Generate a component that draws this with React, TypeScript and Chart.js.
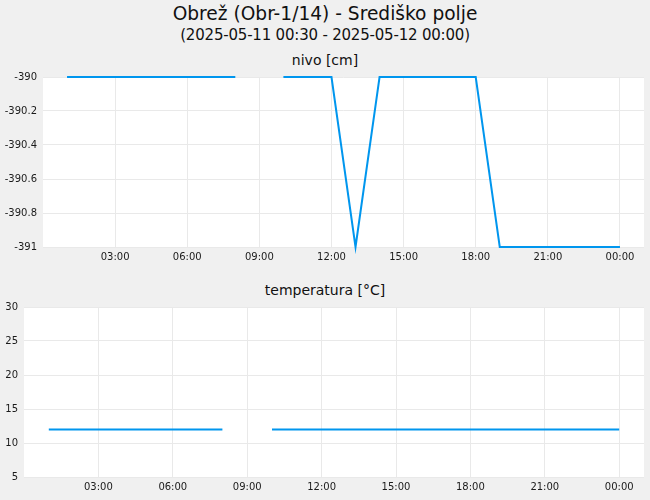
import React, { useEffect, useRef } from "react";
import { Chart, registerables } from "chart.js";

Chart.register(...registerables);

const titleText = "Obrež (Obr-1/14) - Središko polje";
const subtitleText = "(2025-05-11 00:30 - 2025-05-12 00:00)";
const nivoTitle = "nivo [cm]";
const tempTitle = "temperatura [°C]";

// hours since 2025-05-11 00:00
const hours = [1, 2, 3, 4, 5, 6, 7, 8, 9, 10, 11, 12, 13, 14, 15, 16, 17, 18, 19, 20, 21, 22, 23, 24];
const nivo = [
  -390, -390, -390, -390, -390, -390, -390, -390, null, -390, -390, -390, -391, -390, -390, -390, -390, -390,
  -391, -391, -391, -391, -391, -391,
];
const temperatura = [12, 12, 12, 12, 12, 12, 12, 12, null, 12, 12, 12, 12, 12, 12, 12, 12, 12, 12, 12, 12, 12, 12, 12];
const xTickHours = [3, 6, 9, 12, 15, 18, 21, 24];

const FONT = "'DejaVu Sans', sans-serif";
const LINE = "#0096ee";
const GRID = "#e9e9e9";

const bgPlugin = {
  id: "areaBg",
  beforeDraw(chart: any) {
    const { ctx, chartArea } = chart;
    ctx.save();
    ctx.fillStyle = "#ffffff";
    ctx.fillRect(chartArea.left, chartArea.top, chartArea.right - chartArea.left, chartArea.bottom - chartArea.top);
    ctx.restore();
  },
};

function fmtHour(v: number) {
  const h = ((v % 24) + 24) % 24;
  return String(h).padStart(2, "0") + ":00";
}

function Panel(props: {
  top: number;
  values: (number | null)[];
  yMin: number;
  yMax: number;
  yStep: number;
  yWidth: number;
  yFmt: (v: number) => string;
}) {
  const ref = useRef<HTMLCanvasElement | null>(null);
  useEffect(() => {
    if (!ref.current) return;
    const chart = new Chart(ref.current, {
      type: "line",
      data: {
        datasets: [
          {
            data: hours.map((h, i) => ({ x: h, y: props.values[i] })) as any,
            borderColor: LINE,
            borderWidth: 2,
            pointRadius: 0,
            tension: 0,
            spanGaps: false,
            fill: false,
            clip: false,
          },
        ],
      },
      options: {
        animation: false,
        responsive: false,
        events: [],
        layout: { padding: { top: 10, right: 6, left: 0, bottom: 0 } },
        plugins: { legend: { display: false }, tooltip: { enabled: false }, title: { display: false } },
        scales: {
          x: {
            type: "linear",
            min: 0,
            max: 25,
            afterBuildTicks(scale: any) {
              scale.ticks = xTickHours.map((v) => ({ value: v }));
            },
            afterFit(scale: any) {
              scale.height = 22;
            },
            grid: { color: GRID, drawTicks: false },
            border: { display: false },
            ticks: {
              padding: 4,
              maxRotation: 0,
              autoSkip: false,
              color: "#1a1a1a",
              font: { family: FONT, size: 10 },
              callback: (v: any) => fmtHour(Number(v)),
            },
          },
          y: {
            min: props.yMin,
            max: props.yMax,
            afterFit(scale: any) {
              scale.width = props.yWidth;
            },
            grid: { color: GRID, drawTicks: false },
            border: { display: false },
            ticks: {
              stepSize: props.yStep,
              padding: 6,
              color: "#1a1a1a",
              font: { family: FONT, size: 10 },
              callback: (v: any) => props.yFmt(Number(v)),
            },
          },
        },
      } as any,
      plugins: [bgPlugin],
    });
    return () => chart.destroy();
  }, []);
  return (
    <canvas
      ref={ref}
      width={650}
      height={204}
      style={{ position: "absolute", left: 0, top: props.top, width: 650, height: 204 }}
    />
  );
}

const textStyle = (top: number, size: number, spacing = 0): React.CSSProperties => ({
  position: "absolute",
  left: 0,
  top,
  width: 650,
  textAlign: "center",
  fontFamily: FONT,
  fontSize: size,
  fontWeight: "normal",
  letterSpacing: spacing,
  color: "#111",
  lineHeight: 1,
  whiteSpace: "nowrap",
});

export default function App() {
  return (
    <div
      style={{
        position: "absolute",
        left: 0,
        top: 0,
        width: 650,
        height: 500,
        background: "#f0f0f0",
        overflow: "hidden",
      }}
    >
      <div style={textStyle(5, 18.6)}>{titleText}</div>
      <div style={textStyle(28, 15, -0.2)}>{subtitleText}</div>
      <div style={textStyle(53, 14)}>{nivoTitle}</div>
      <div style={textStyle(283, 14)}>{tempTitle}</div>
      <Panel
        top={65}
        values={nivo}
        yMin={-391}
        yMax={-390}
        yStep={0.2}
        yWidth={43}
        yFmt={(v) => String(Number(v.toFixed(1)))}
      />
      <Panel
        top={295}
        values={temperatura}
        yMin={5}
        yMax={30}
        yStep={5}
        yWidth={24}
        yFmt={(v) => String(Math.round(v))}
      />
    </div>
  );
}
